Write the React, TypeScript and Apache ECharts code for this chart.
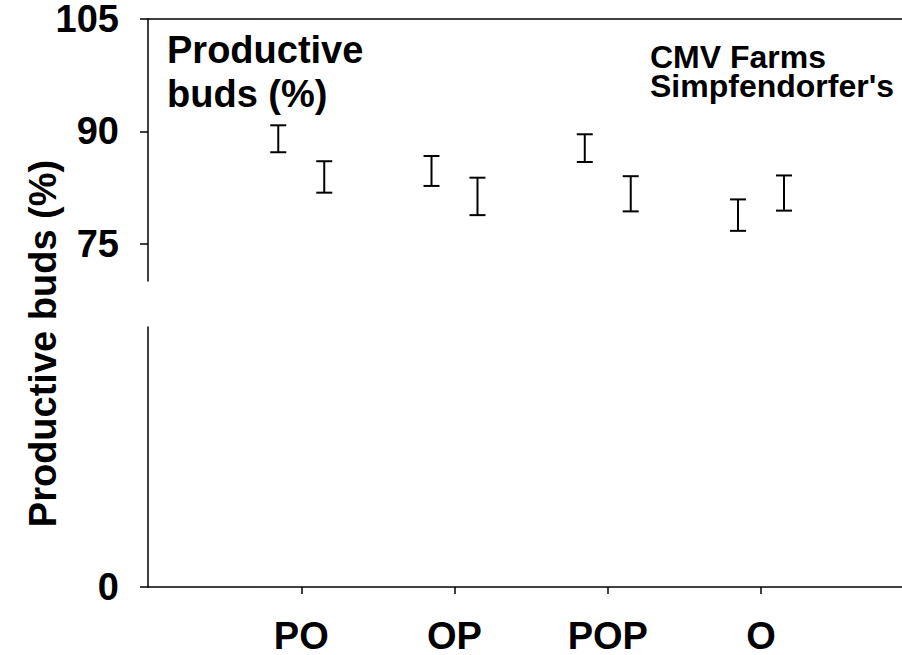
import React, { useEffect, useRef } from "react";
import * as echarts from "echarts";

// ---- data ----
const categories = ["PO", "OP", "POP", "O"];
const categoryPositions = [1, 2, 3, 4];
const seriesNames = ["CMV Farms", "Simpfendorfer's"];
// error bar ranges (lower / upper), productive buds %
const cmvLow = [87.2, 82.7, 85.9, 76.7];
const cmvHigh = [90.8, 86.7, 89.6, 80.9];
const simpLow = [81.8, 78.8, 79.3, 79.4];
const simpHigh = [86.0, 83.8, 84.0, 84.1];
const upperTicks = [75, 90, 105];
const lowerTicks = [0];

const FONT = "'Liberation Sans', Arial, Helvetica, sans-serif";
const OFFSET = 0.15;

export default function App() {
  const ref = useRef<HTMLDivElement>(null);
  useEffect(() => {
    if (!ref.current) return;
    const chart = echarts.init(ref.current, undefined, { renderer: "svg" });

    const makeData = (lo: number[], hi: number[], off: number) =>
      categoryPositions.map((p, i) => [p + off, lo[i], hi[i]]);

    const renderItem = (params: any, api: any) => {
      const x = api.value(0);
      const lo = api.value(1);
      const hi = api.value(2);
      const a = api.coord([x, hi]);
      const b = api.coord([x, lo]);
      const cw = 8;
      const st = { stroke: "#000", lineWidth: 2, fill: "none" };
      return {
        type: "group",
        children: [
          { type: "line", shape: { x1: a[0], y1: a[1], x2: b[0], y2: b[1] }, style: st },
          { type: "line", shape: { x1: a[0] - cw, y1: a[1], x2: a[0] + cw, y2: a[1] }, style: st },
          { type: "line", shape: { x1: b[0] - cw, y1: b[1], x2: b[0] + cw, y2: b[1] }, style: st },
        ],
      };
    };

    const axisLineStyle = { color: "#000", width: 1.5 };
    const labelStyle = { color: "#000", fontSize: 38, fontWeight: "bold" as const, fontFamily: FONT };

    chart.setOption({
      animation: false,
      backgroundColor: "#fff",
      grid: [
        { left: 148, right: 0, top: 19, height: 262 },
        { left: 148, right: 0, top: 327, height: 262 },
      ],
      xAxis: [
        {
          type: "value",
          gridIndex: 0,
          min: 0,
          max: 4.92,
          position: "top",
          axisLine: { show: true, lineStyle: axisLineStyle },
          axisTick: { show: false },
          axisLabel: { show: false },
          splitLine: { show: false },
        },
        {
          type: "value",
          gridIndex: 1,
          min: 0,
          max: 4.92,
          position: "bottom",
          axisLine: { show: true, onZero: false, lineStyle: axisLineStyle },
          axisTick: { show: true, length: 7, lineStyle: axisLineStyle, customValues: categoryPositions },
          axisLabel: {
            ...labelStyle,
            margin: 30,
            customValues: categoryPositions,
            formatter: (v: number) => categories[Math.round(v) - 1] ?? "",
          },
          splitLine: { show: false },
        },
      ],
      yAxis: [
        {
          type: "value",
          gridIndex: 0,
          min: 70,
          max: 105,
          axisLine: { show: true, lineStyle: axisLineStyle },
          axisTick: { show: true, length: 8, lineStyle: axisLineStyle, customValues: upperTicks },
          axisLabel: { ...labelStyle, margin: 29, customValues: upperTicks },
          splitLine: { show: false },
        },
        {
          type: "value",
          gridIndex: 1,
          min: 0,
          max: 70,
          axisLine: { show: true, lineStyle: axisLineStyle },
          axisTick: { show: true, length: 8, lineStyle: axisLineStyle, customValues: lowerTicks },
          axisLabel: { ...labelStyle, margin: 29, customValues: lowerTicks },
          splitLine: { show: false },
        },
      ],
      series: [
        {
          name: seriesNames[0],
          type: "custom",
          xAxisIndex: 0,
          yAxisIndex: 0,
          renderItem,
          encode: { x: 0, y: [1, 2] },
          data: makeData(cmvLow, cmvHigh, -OFFSET),
          clip: false,
        },
        {
          name: seriesNames[1],
          type: "custom",
          xAxisIndex: 0,
          yAxisIndex: 0,
          renderItem,
          encode: { x: 0, y: [1, 2] },
          data: makeData(simpLow, simpHigh, OFFSET),
          clip: false,
        },
      ],
      graphic: [
        {
          type: "text",
          x: 43,
          y: 343.5,
          rotation: Math.PI / 2,
          style: {
            text: "Productive buds (%)",
            fill: "#000",
            fontSize: 38,
            fontWeight: "bold",
            fontFamily: FONT,
            align: "center",
            verticalAlign: "middle",
          },
        },
        {
          type: "text",
          x: 167,
          y: 71.8,
          style: {
            text: "Productive\nbuds (%)",
            fill: "#000",
            fontSize: 38,
            lineHeight: 44.4,
            fontWeight: "bold",
            fontFamily: FONT,
            align: "left",
            verticalAlign: "middle",
          },
        },
        {
          type: "text",
          x: 650,
          y: 56.7,
          style: {
            text: seriesNames[0],
            fill: "#000",
            fontSize: 32,
            fontWeight: "bold",
            fontFamily: FONT,
            align: "left",
            verticalAlign: "middle",
          },
        },
        {
          type: "text",
          x: 650,
          y: 86,
          style: {
            text: seriesNames[1],
            fill: "#000",
            fontSize: 32,
            fontWeight: "bold",
            fontFamily: FONT,
            align: "left",
            verticalAlign: "middle",
          },
        },
      ],
    });
    return () => chart.dispose();
  }, []);

  return (
    <div
      ref={ref}
      style={{ position: "fixed", left: 0, top: 0, width: 902, height: 655, background: "#fff" }}
    />
  );
}
